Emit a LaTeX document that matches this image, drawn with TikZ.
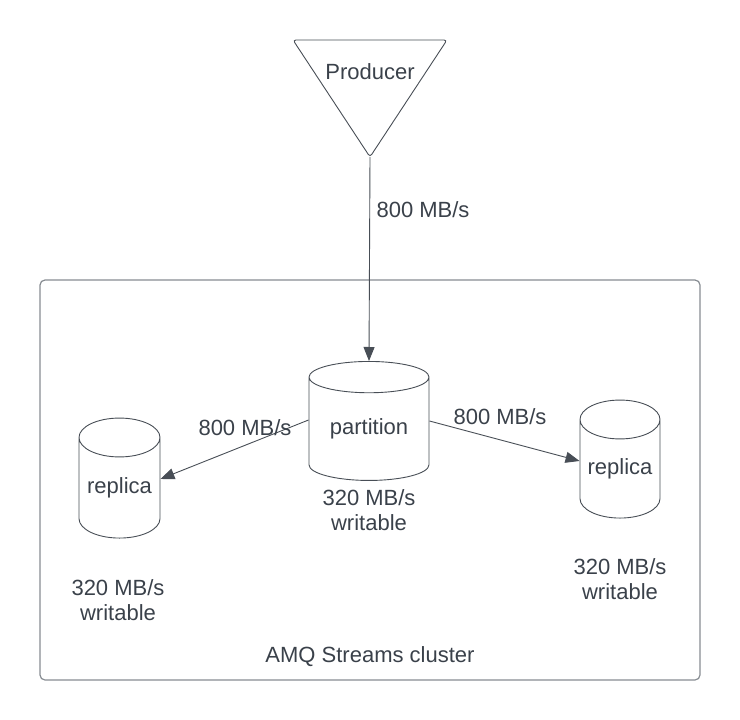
\documentclass[tikz,border=0pt]{standalone}
\usepackage{fontspec}
\setmainfont{Liberation Sans}
\definecolor{InkGray}{RGB}{58,65,74}
\definecolor{EdgeGray}{RGB}{72,78,86}
\definecolor{FrameGray}{RGB}{135,140,146}
\usetikzlibrary{positioning,arrows.meta,shapes.geometric}

\begin{document}
\begin{tikzpicture}[x=1pt, y=-1pt,
    every node/.style={font=\fontsize{22}{25}\selectfont, text=InkGray, align=center},
    disk/.style={cylinder, shape border rotate=90, draw=EdgeGray, line width=0.9pt,
                 inner sep=0pt},
    frame/.style={draw=FrameGray, line width=1.2pt, rounded corners=5pt,
                  minimum width=660pt, minimum height=400pt},
    flow/.style={-{Triangle[length=14pt, width=11pt]}, draw=EdgeGray, line width=0.9pt}
  ]
    \useasboundingbox (0,0) rectangle (740,720);
    % cluster frame
    \node[frame] (cluster) at (370,480) {};
    \node (clusterLabel) at (370,657) {AMQ Streams cluster};
    % producer
    \coordinate (prodL) at (293,40);
    \coordinate (prodR) at (447,40);
    \coordinate (prodTip) at (370,157);
    \draw[EdgeGray, line width=0.9pt, rounded corners=3pt] (prodL) -- (prodR) -- (prodTip) -- cycle;
    \node (producer) at (370,72) {Producer};
    % partition and replicas
    \node[disk, minimum width=120pt, minimum height=119pt, aspect=0.4] (part) at (369,429) {partition};
    \node[disk, minimum width=81pt, minimum height=120pt, aspect=0.6] (replL) at (119.5,488) {replica};
    \node[disk, minimum width=80pt, minimum height=118pt, aspect=0.6] (replR) at (620,469) {replica};
    \node (partRate) at (369,510) {320 MB/s\\writable};
    \node (replLRate) at (118,600) {320 MB/s\\writable};
    \node (replRRate) at (620,579) {320 MB/s\\writable};
    % flows
    \draw[flow] (prodTip) -- (part.north);
    \draw[flow] ([yshift=9pt]part.west) -- ([yshift=9pt]replL.east);
    \draw[flow] ([yshift=8pt]part.east) -- ([yshift=8pt]replR.west);
    \node (inRate) at (423,210) {800 MB/s};
    \node (leftRate) at (245,428) {800 MB/s};
    \node (rightRate) at (500,417) {800 MB/s};
\end{tikzpicture}
\end{document}
